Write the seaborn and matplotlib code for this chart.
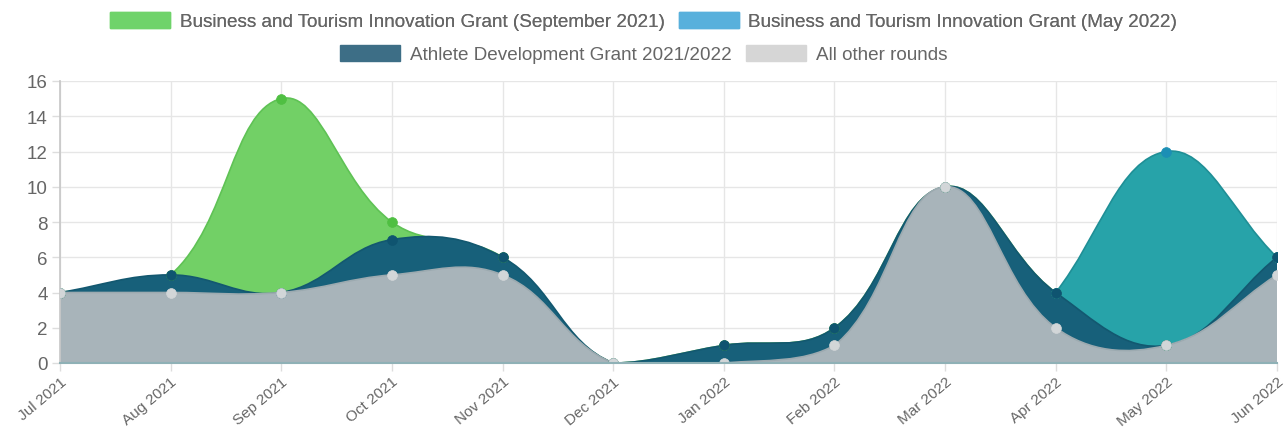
import numpy as np
import pandas as pd
import matplotlib
matplotlib.use('Agg')
import matplotlib.pyplot as plt
import seaborn as sns
from matplotlib.path import Path
from matplotlib.patches import PathPatch, Patch

months = ['Jul 2021', 'Aug 2021', 'Sep 2021', 'Oct 2021', 'Nov 2021', 'Dec 2021',
          'Jan 2022', 'Feb 2022', 'Mar 2022', 'Apr 2022', 'May 2022', 'Jun 2022']

# counts per round (own values, stacked on top of each other)
other_rounds = [4, 4, 4, 5, 5, 0, 0, 1, 10, 2, 1, 5]
athlete_dev = [0, 1, 0, 2, 1, 0, 1, 1, 0, 2, 0, 1]
bti_sep21 = [0, 0, 11, 1, 0, 0, 0, 0, 0, 0, 0, 0]
bti_may22 = [None] * 9 + [0, 11, 0]

sns.set_theme(style='white')
plt.rcParams['font.family'] = ['Liberation Sans', 'DejaVu Sans']

fig = plt.figure(figsize=(12.87, 4.31), dpi=100)
fig.subplots_adjust(left=60 / 1287, right=1277 / 1287, top=1 - 82 / 431, bottom=1 - 364 / 431)
ax = fig.add_subplot(111)
ax.set_xlim(0, 11)
ax.set_ylim(0, 16)

x = np.arange(len(months))
gray_top = np.array(other_rounds, dtype=float)
dark_top = gray_top + np.array(athlete_dev)
green_top = dark_top + np.array(bti_sep21)
teal_idx = [i for i, v in enumerate(bti_may22) if v is not None]
teal_top = dark_top[teal_idx] + np.array([bti_may22[i] for i in teal_idx])


def spline_path(xs, ys, tension=0.4):
    # chart.js style bezier through the points, computed in pixel space
    pts = ax.transData.transform(np.column_stack([xs, ys]))
    bb = ax.bbox
    n = len(pts)
    verts = [pts[0]]
    codes = [Path.MOVETO]
    cps = []
    for i in range(n):
        prev = pts[i - 1] if i > 0 else pts[i]
        nxt = pts[i + 1] if i < n - 1 else pts[i]
        cur = pts[i]
        d01 = np.hypot(*(cur - prev))
        d12 = np.hypot(*(nxt - cur))
        tot = d01 + d12
        s01 = d01 / tot if tot else 0
        s12 = d12 / tot if tot else 0
        cp1 = cur - tension * s01 * (nxt - prev)
        cp2 = cur + tension * s12 * (nxt - prev)
        for cp in (cp1, cp2):
            cp[0] = min(max(cp[0], bb.x0), bb.x1)
            cp[1] = min(max(cp[1], bb.y0), bb.y1)
        cps.append((cp1, cp2))
    for i in range(1, n):
        verts += [cps[i - 1][1], cps[i][0], pts[i]]
        codes += [Path.CURVE4] * 3
    verts = ax.transData.inverted().transform(np.array(verts))
    return verts, codes


def draw_area(xs, ys, face, edge, z):
    verts, codes = spline_path(xs, ys)
    area_v = np.vstack([[xs[0], 0], verts, [xs[-1], 0], [xs[0], 0]])
    area_c = [Path.MOVETO, Path.LINETO] + codes[1:] + [Path.LINETO, Path.CLOSEPOLY]
    ax.add_patch(PathPatch(Path(area_v, area_c), facecolor=face, edgecolor='none', zorder=z))
    ax.add_patch(PathPatch(Path(verts, codes), facecolor='none', edgecolor=edge, lw=1.2, zorder=z))


draw_area(x, green_top, '#72d066', '#5fc255', 2.0)
draw_area(x[teal_idx], teal_top, '#27a3a9', '#1f8f96', 2.1)
draw_area(x, dark_top, '#17607a', '#135870', 2.2)
draw_area(x, gray_top, '#a8b4ba', '#9caab0', 2.3)

df = pd.concat([
    pd.DataFrame({'x': x, 'y': green_top, 's': 'green'}),
    pd.DataFrame({'x': x[teal_idx], 'y': teal_top, 's': 'teal'}),
    pd.DataFrame({'x': x, 'y': dark_top, 's': 'dark'}),
    pd.DataFrame({'x': x, 'y': gray_top, 's': 'gray'}),
])
marker_colors = {'green': '#4fbf42', 'teal': '#1c8fb5', 'dark': '#0f5470', 'gray': '#d2d6d8'}
for i, (name, sub) in enumerate(df.groupby('s', sort=False)):
    sns.scatterplot(data=sub, x='x', y='y', color=marker_colors[name], s=50,
                    edgecolor=marker_colors[name], linewidth=0.5, ax=ax, zorder=4 + i, legend=False)

ax.set_xticks(x)
ax.set_xticklabels(months, rotation=40, ha='right', rotation_mode='anchor')
ax.set_yticks(range(0, 17, 2))
ax.tick_params(axis='both', colors='#dddddd', labelcolor='#666666', labelsize=11, length=6, width=1,
               direction='out', left=True, bottom=True, pad=2)
ax.tick_params(axis='y', labelsize=13.5, pad=3)
ax.grid(True, color='#e6e6e6', lw=1)
ax.set_axisbelow(True)
ax.set_xlabel('')
ax.set_ylabel('')
for sp in ['top', 'right']:
    ax.spines[sp].set_visible(False)
ax.spines['left'].set_color('#c8c8c8')
ax.spines['bottom'].set_color('#8fb1b6')
ax.spines['bottom'].set_linewidth(1.5)
ax.spines['bottom'].set_zorder(10)

row1 = [Patch(facecolor='#6fd36a', edgecolor='#6fd36a'), Patch(facecolor='#58b0dc', edgecolor='#58b0dc')]
row2 = [Patch(facecolor='#3d6e86', edgecolor='#3d6e86'), Patch(facecolor='#d6d6d6', edgecolor='#d6d6d6')]
leg_kw = dict(loc='center', ncol=2, frameon=False, fontsize=13.6, handlelength=3.2, handleheight=0.95,
              handletextpad=0.5, columnspacing=0.75, labelcolor='#666666')
leg1 = fig.legend(row1, ['Business and Tourism Innovation Grant (September 2021)',
                         'Business and Tourism Innovation Grant (May 2022)'],
                  bbox_to_anchor=(0.5, 1 - 22 / 431), **leg_kw)
fig.add_artist(leg1)
fig.legend(row2, ['Athlete Development Grant 2021/2022', 'All other rounds'],
           bbox_to_anchor=(0.5, 1 - 55 / 431), **leg_kw)

fig.savefig('out.png', dpi=100)
